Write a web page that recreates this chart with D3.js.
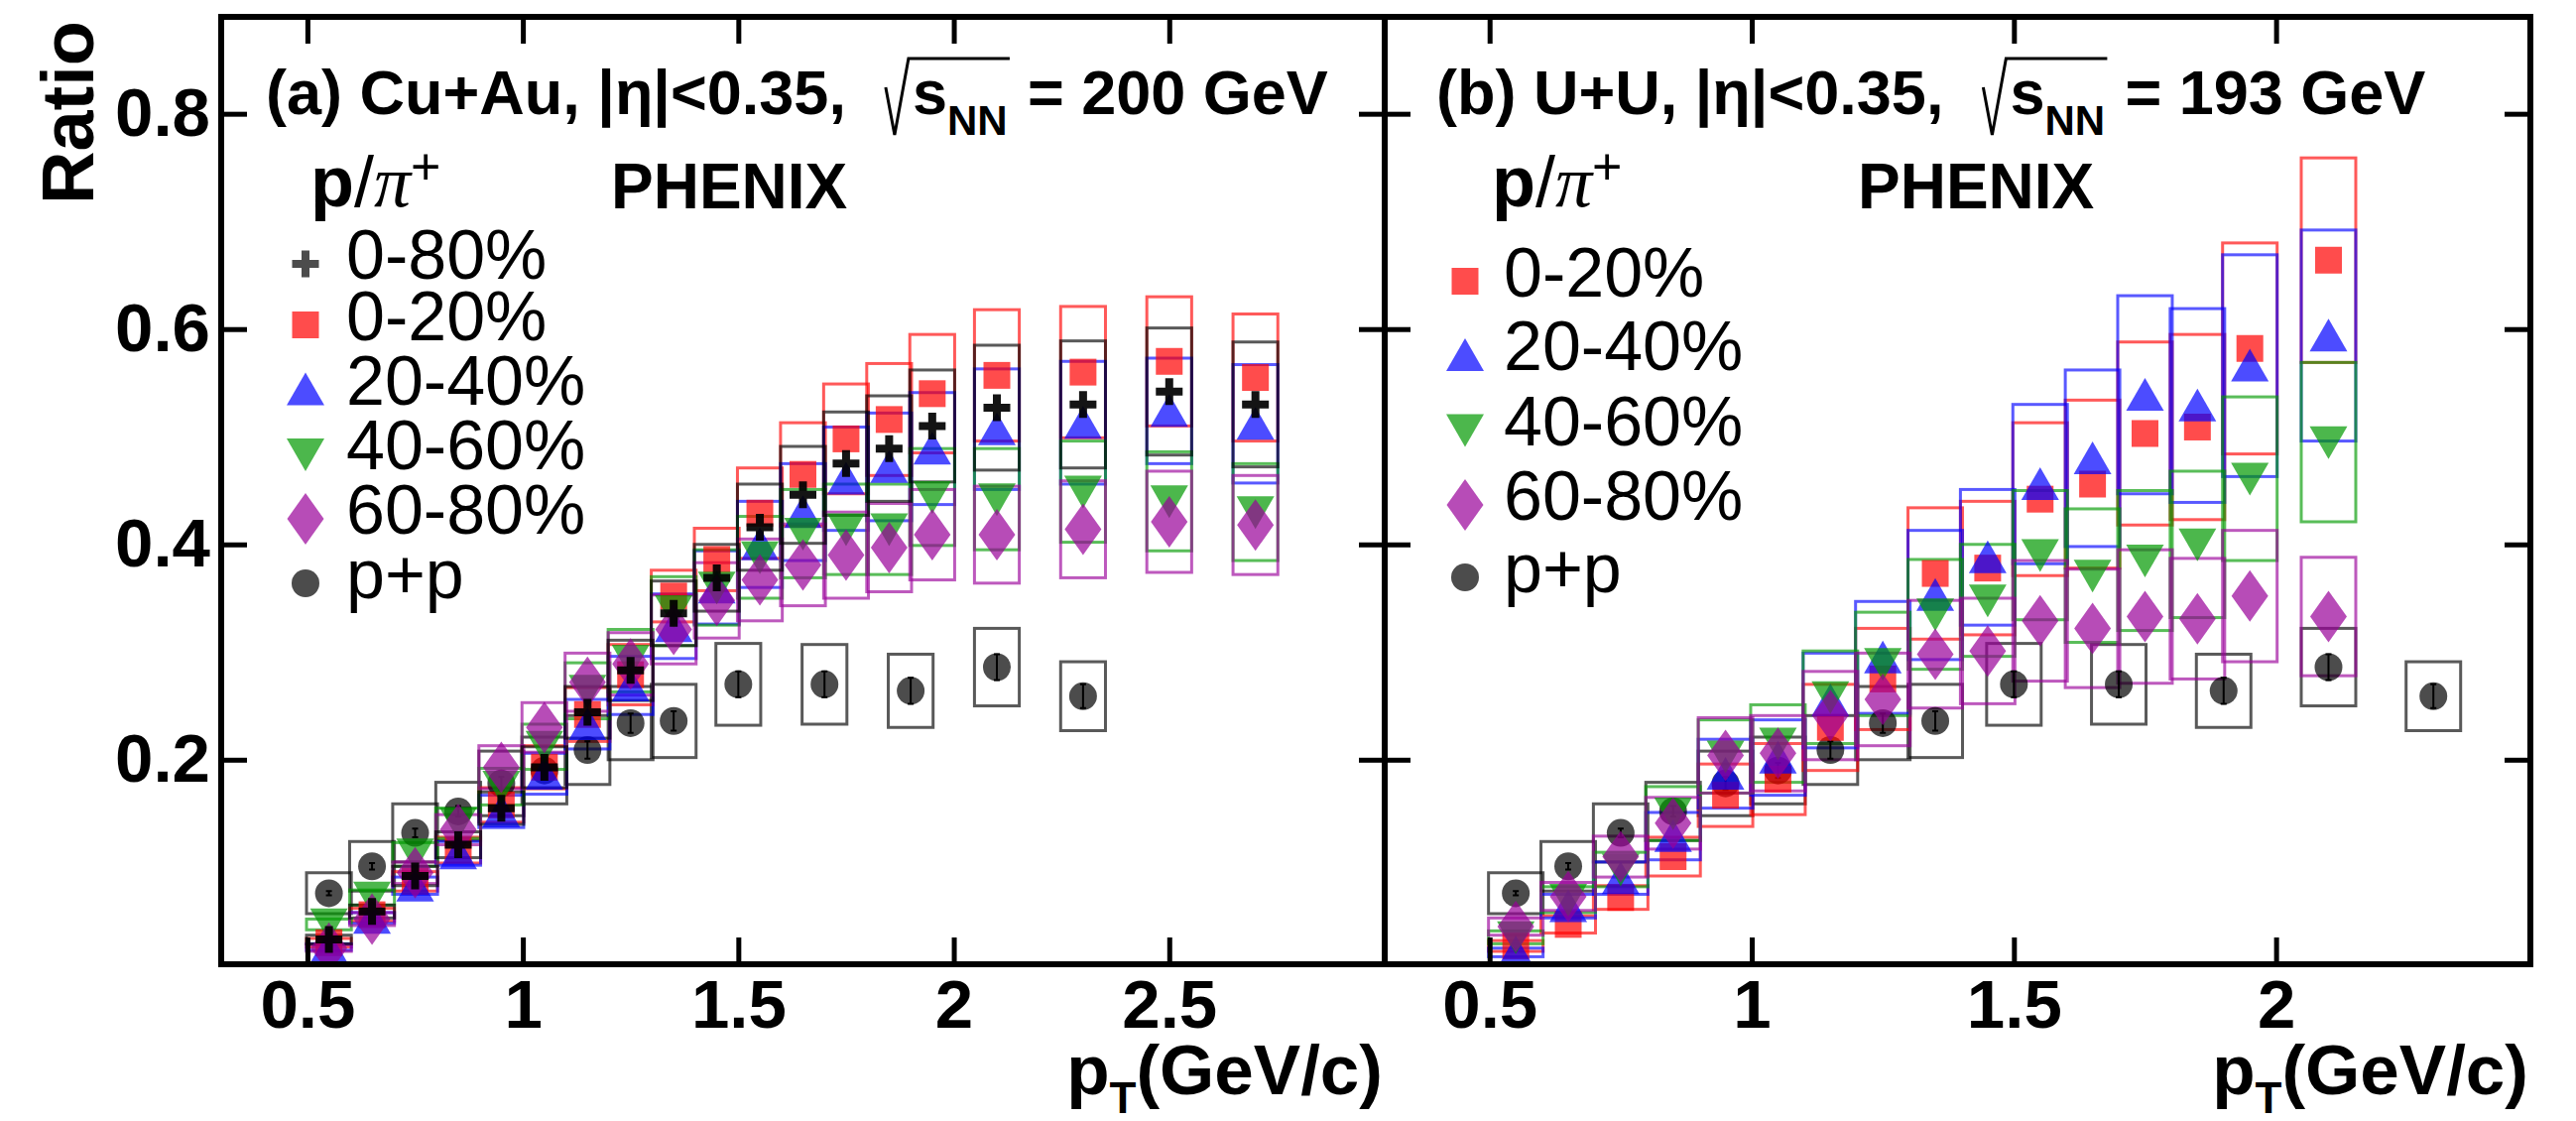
<!DOCTYPE html>
<html>
<head>
<meta charset="utf-8">
<script src="https://cdn.jsdelivr.net/npm/d3@7"></script>
<style>
  body { margin: 0; background: #fff; }
  text { font-family: "Liberation Sans", Arial, Helvetica, sans-serif; }
</style>
</head>
<body>
<svg id="chart" width="2597" height="1130"></svg>
<script>
// ---- data ----
const ptA = [0.55, 0.65, 0.75, 0.85, 0.95, 1.05, 1.15, 1.25, 1.35, 1.45, 1.55, 1.65, 1.75, 1.85, 1.95, 2.1, 2.3, 2.5, 2.7]
const ptB = [0.55, 0.65, 0.75, 0.85, 0.95, 1.05, 1.15, 1.25, 1.35, 1.45, 1.55, 1.65, 1.75, 1.85, 1.95, 2.1]
const ptPP = [0.55, 0.65, 0.75, 0.85, 0.95, 1.05, 1.15, 1.25, 1.35, 1.5, 1.7, 1.9, 2.1, 2.3]

// Cu+Au
const cuau080 = [0.033, 0.059, 0.092, 0.121, 0.155, 0.193, 0.244, 0.283, 0.336, 0.369, 0.416, 0.446, 0.475, 0.489, 0.510, 0.527, 0.530, 0.542, 0.530]
const cuau080Sys = [0.004, 0.006, 0.009, 0.012, 0.015, 0.019, 0.024, 0.028, 0.030, 0.031, 0.040, 0.045, 0.048, 0.049, 0.052, 0.058, 0.059, 0.059, 0.058]
const cuau020 = [0.030, 0.056, 0.087, 0.116, 0.158, 0.193, 0.242, 0.279, 0.352, 0.386, 0.429, 0.465, 0.498, 0.516, 0.540, 0.557, 0.560, 0.570, 0.555]
const cuau020Sys = [0.004, 0.006, 0.009, 0.012, 0.016, 0.020, 0.025, 0.028, 0.024, 0.029, 0.042, 0.048, 0.051, 0.052, 0.055, 0.061, 0.061, 0.060, 0.059]
const cuau2040 = [0.026, 0.053, 0.083, 0.113, 0.152, 0.187, 0.233, 0.269, 0.324, 0.360, 0.400, 0.430, 0.461, 0.472, 0.489, 0.507, 0.513, 0.524, 0.512]
const cuau2040Sys = [0.003, 0.005, 0.008, 0.011, 0.015, 0.019, 0.023, 0.027, 0.030, 0.034, 0.040, 0.045, 0.048, 0.050, 0.052, 0.056, 0.057, 0.049, 0.055]
const cuau4060 = [0.047, 0.072, 0.112, 0.141, 0.175, 0.212, 0.264, 0.292, 0.338, 0.360, 0.388, 0.410, 0.414, 0.414, 0.444, 0.442, 0.449, 0.440, 0.430]
const cuau4060Sys = [0.005, 0.007, 0.011, 0.014, 0.017, 0.021, 0.026, 0.029, 0.032, 0.035, 0.038, 0.041, 0.042, 0.042, 0.045, 0.047, 0.047, 0.046, 0.045]
const cuau6080 = [0.025, 0.052, 0.095, 0.135, 0.193, 0.230, 0.272, 0.289, 0.321, 0.348, 0.367, 0.381, 0.390, 0.397, 0.409, 0.409, 0.414, 0.421, 0.418]
const cuau6080Sys = [0.003, 0.006, 0.010, 0.014, 0.020, 0.023, 0.027, 0.029, 0.032, 0.035, 0.038, 0.038, 0.040, 0.041, 0.042, 0.045, 0.045, 0.047, 0.046]

// U+U
const uu020 = [0.027, 0.047, 0.072, 0.110, 0.167, 0.182, 0.230, 0.275, 0.373, 0.378, 0.442, 0.456, 0.503, 0.509, 0.582, 0.664]
const uu020Sys = [0.005, 0.008, 0.011, 0.018, 0.029, 0.033, 0.040, 0.047, 0.061, 0.062, 0.071, 0.078, 0.085, 0.086, 0.098, 0.095]
const uu2040 = [0.021, 0.064, 0.090, 0.129, 0.187, 0.202, 0.255, 0.295, 0.353, 0.388, 0.456, 0.480, 0.539, 0.529, 0.566, 0.594]
const uu2040Sys = [0.004, 0.011, 0.015, 0.022, 0.032, 0.035, 0.044, 0.052, 0.060, 0.063, 0.074, 0.082, 0.092, 0.090, 0.103, 0.098]
const uu4060 = [0.035, 0.070, 0.098, 0.150, 0.203, 0.215, 0.258, 0.289, 0.335, 0.348, 0.390, 0.371, 0.385, 0.400, 0.461, 0.495]
const uu4060Sys = [0.006, 0.012, 0.016, 0.025, 0.034, 0.036, 0.043, 0.048, 0.051, 0.052, 0.060, 0.062, 0.065, 0.068, 0.076, 0.074]
const uu6080 = [0.045, 0.073, 0.110, 0.141, 0.204, 0.206, 0.241, 0.256, 0.298, 0.301, 0.329, 0.322, 0.333, 0.331, 0.352, 0.333]
const uu6080Sys = [0.008, 0.013, 0.019, 0.024, 0.035, 0.035, 0.041, 0.043, 0.050, 0.049, 0.056, 0.055, 0.062, 0.056, 0.061, 0.055]

// p+p reference (same in both panels)
const pp = [0.076, 0.101, 0.132, 0.152, 0.178, 0.190, 0.209, 0.234, 0.236, 0.270, 0.270, 0.264, 0.286, 0.259]
const ppSys = [0.019, 0.023, 0.027, 0.027, 0.030, 0.031, 0.032, 0.034, 0.034, 0.038, 0.037, 0.034, 0.036, 0.032]
const ppStat = [0.002, 0.003, 0.004, 0.005, 0.006, 0.007, 0.008, 0.009, 0.009, 0.012, 0.012, 0.012, 0.012, 0.011]

const xTicksA = [0.5, 1, 1.5, 2, 2.5]
const xTicksB = [0.5, 1, 1.5, 2]
const yTicks = [0.2, 0.4, 0.6, 0.8]

// ---- layout ----
const W = 2597, H = 1130
const plotTop = 17, plotBottom = 972
const boxHalf = 0.052

const svg = d3.select("#chart")
svg.append("rect").attr("width", W).attr("height", H).attr("fill", "#fff")

const y = d3.scaleLinear().domain([0.01, 0.89]).range([plotBottom, plotTop])

const shapes = {
  cross: "M-4,-13.5h8v9.5h9.5v8h-9.5v9.5h-8v-9.5h-9.5v-8h9.5z",
  square: "M-13.5,-13.5h27v27h-27z",
  tri: "M0,-17L19,16L-19,16Z",
  tridown: "M0,17L19,-16L-19,-16Z",
  diamond: "M0,-26L18.5,0L0,26L-18.5,0Z",
  circle: "M-14,0a14,14 0 1,0 28,0a14,14 0 1,0 -28,0Z"
}

const panels = [
  {
    id: "a", left: 223, right: 1396, domain: [0.3, 3.0], ticks: xTicksA, yLabels: true,
    title: "(a) Cu+Au, |\u03b7|<0.35,", energy: "= 200 GeV", titleX: 268,
    legendX: 308, legendBase: [281, 342.5, 407.5, 473, 538, 603], headX: 313, phenixX: 616,
    series: [
      {label: "0-80%", x: ptA, v: cuau080, sys: cuau080Sys, shape: "cross", color: "#000000", op: 0.92, legOp: 0.7},
      {label: "0-20%", x: ptA, v: cuau020, sys: cuau020Sys, shape: "square", color: "#ff0000"},
      {label: "20-40%", x: ptA, v: cuau2040, sys: cuau2040Sys, shape: "tri", color: "#0000ff"},
      {label: "40-60%", x: ptA, v: cuau4060, sys: cuau4060Sys, shape: "tridown", color: "#009900"},
      {label: "60-80%", x: ptA, v: cuau6080, sys: cuau6080Sys, shape: "diamond", color: "#990099"},
      {label: "p+p", x: ptPP, v: pp, sys: ppSys, stat: ppStat, shape: "circle", color: "#000000"}
    ]
  },
  {
    id: "b", left: 1396, right: 2551, domain: [0.3, 2.485], ticks: xTicksB, yLabels: false,
    title: "(b) U+U, |\u03b7|<0.35,", energy: "= 193 GeV", titleX: 1448,
    legendX: 1477, legendBase: [298.5, 373, 448.5, 524, 597], headX: 1504, phenixX: 1873,
    series: [
      {label: "0-20%", x: ptB, v: uu020, sys: uu020Sys, shape: "square", color: "#ff0000"},
      {label: "20-40%", x: ptB, v: uu2040, sys: uu2040Sys, shape: "tri", color: "#0000ff"},
      {label: "40-60%", x: ptB, v: uu4060, sys: uu4060Sys, shape: "tridown", color: "#009900"},
      {label: "60-80%", x: ptB, v: uu6080, sys: uu6080Sys, shape: "diamond", color: "#990099"},
      {label: "p+p", x: ptPP, v: pp, sys: ppSys, stat: ppStat, shape: "circle", color: "#000000"}
    ]
  }
]

panels.forEach(p => {
  const x = d3.scaleLinear().domain(p.domain).range([p.left, p.right])
  const g = svg.append("g").attr("class", "panel-" + p.id)

  g.append("clipPath").attr("id", "clip-" + p.id)
    .append("rect").attr("x", p.left).attr("y", plotTop)
    .attr("width", p.right - p.left).attr("height", plotBottom - plotTop)

  const plot = g.append("g").attr("clip-path", `url(#clip-${p.id})`)

  // marker draw order: p+p first, the 0-80% crosses last
  const rank = s => s.shape === "circle" ? 0 : s.shape === "cross" ? 9 : 1
  const order = p.series.slice().sort((a, b) => rank(a) - rank(b))

  // systematic boxes
  order.forEach(s => {
    const pts = s.x.map((xv, i) => ({x: xv, v: s.v[i], e: s.sys[i]}))
    plot.append("g").selectAll("rect").data(pts).join("rect")
      .attr("x", d => x(d.x - boxHalf))
      .attr("width", d => x(d.x + boxHalf) - x(d.x - boxHalf))
      .attr("y", d => y(d.v + d.e))
      .attr("height", d => y(d.v - d.e) - y(d.v + d.e))
      .attr("fill", "none")
      .attr("stroke", s.color)
      .attr("stroke-opacity", 0.65)
      .attr("stroke-width", 3)
  })

  // markers
  order.forEach(s => {
    const pts = s.x.map((xv, i) => ({x: xv, v: s.v[i], st: s.stat ? s.stat[i] : 0}))
    const mg = plot.append("g")
    mg.selectAll("path.mk").data(pts).join("path").attr("class", "mk")
      .attr("d", shapes[s.shape])
      .attr("transform", d => `translate(${x(d.x)},${y(d.v)})`)
      .attr("fill", s.color)
      .attr("fill-opacity", s.op || 0.7)
    if (s.stat) {
      mg.selectAll("path.err").data(pts).join("path").attr("class", "err")
        .attr("d", d => {
          const cx = x(d.x), y1 = y(d.v + d.st), y2 = y(d.v - d.st)
          return `M${cx},${y1}V${y2}M${cx - 3},${y1}h6M${cx - 3},${y2}h6`
        })
        .attr("stroke", "#000").attr("stroke-width", 2).attr("fill", "none")
    }
  })

  // axes
  const styleAxis = sel => {
    sel.select(".domain").remove()
    sel.selectAll(".tick line").attr("stroke", "#000").attr("stroke-width", 5)
    sel.selectAll(".tick text").filter(function() { return !this.textContent }).remove()
    sel.selectAll(".tick text").attr("fill", "#000")
      .style("font-family", "'Liberation Sans', Arial, sans-serif")
      .style("font-weight", "bold").style("font-size", "69px")
  }
  g.append("g").attr("transform", `translate(0,${plotBottom})`)
    .call(d3.axisBottom(x).tickValues(p.ticks).tickFormat(d => String(d))
      .tickSizeInner(-27).tickSizeOuter(0).tickPadding(15))
    .call(styleAxis)
  g.append("g").attr("transform", `translate(0,${plotTop})`)
    .call(d3.axisTop(x).tickValues(p.ticks).tickFormat("").tickSizeInner(-27).tickSizeOuter(0))
    .call(styleAxis)
  g.append("g").attr("transform", `translate(${p.left},0)`)
    .call(d3.axisLeft(y).tickValues(yTicks).tickFormat(p.yLabels ? (d => String(d)) : "")
      .tickSizeInner(-26).tickSizeOuter(0).tickPadding(11))
    .call(styleAxis)
  g.append("g").attr("transform", `translate(${p.right},0)`)
    .call(d3.axisRight(y).tickValues(yTicks).tickFormat("").tickSizeInner(-26).tickSizeOuter(0))
    .call(styleAxis)

  // frame
  g.append("rect").attr("x", p.left).attr("y", plotTop)
    .attr("width", p.right - p.left).attr("height", plotBottom - plotTop)
    .attr("fill", "none").attr("stroke", "#000").attr("stroke-width", 6)

  // header: (a) Cu+Au, |eta|<0.35,  sqrt(s_NN) = 200 GeV
  const ttl = g.append("text").attr("x", p.titleX).attr("y", 115)
    .attr("font-size", 63).attr("font-weight", "bold").text(p.title)
  const x0 = p.titleX + ttl.node().getComputedTextLength() + 40
  g.append("path")
    .attr("d", `M${x0},88L${x0 + 9},136L${x0 + 23},59L${x0 + 125},59`)
    .attr("fill", "none").attr("stroke", "#000").attr("stroke-width", 3)
  const sq = g.append("text").attr("x", x0 + 27).attr("y", 115).attr("font-weight", "bold")
  sq.append("tspan").attr("font-size", 63).text("s")
  sq.append("tspan").attr("font-size", 42).attr("dy", 21).text("NN")
  g.append("text").attr("x", x0 + 143).attr("y", 115)
    .attr("font-size", 63).attr("font-weight", "bold").text(p.energy)

  // p/pi+ and PHENIX
  const hd = g.append("text").attr("x", p.headX).attr("y", 208).attr("font-size", 72)
  hd.append("tspan").attr("font-weight", "bold").text("p")
  hd.append("tspan").text("/")
  hd.append("tspan").style("font-family", "'Liberation Serif', 'Times New Roman', serif")
    .style("font-style", "italic").attr("font-size", 74).text("\u03c0")
  hd.append("tspan").attr("font-size", 52).attr("dy", -22).text("+")
  g.append("text").attr("x", p.phenixX).attr("y", 210)
    .attr("font-size", 64).attr("font-weight", "bold").text("PHENIX")

  // legend
  const leg = g.append("g").selectAll("g").data(p.series).join("g")
    .attr("transform", (d, i) => `translate(${p.legendX},${p.legendBase[i]})`)
  leg.append("path").attr("d", d => shapes[d.shape])
    .attr("transform", "translate(0,-15)")
    .attr("fill", d => d.color).attr("fill-opacity", d => d.legOp || 0.7)
  leg.append("text").attr("x", p.id === "a" ? 41 : 39).attr("y", 0)
    .attr("font-size", 70).text(d => d.label)

  // x title
  const xt = g.append("text").attr("x", p.right - 2).attr("y", 1103)
    .attr("text-anchor", "end").attr("font-size", 71).attr("font-weight", "bold")
  xt.append("tspan").text("p")
  xt.append("tspan").attr("font-size", 44).attr("dy", 19).text("T")
  xt.append("tspan").attr("dy", -19).text("(GeV/c)")
})

// y title
svg.append("text").attr("transform", "translate(94,21) rotate(-90)")
  .attr("text-anchor", "end").attr("font-size", 74).attr("font-weight", "bold").text("Ratio")
</script>
</body>
</html>
